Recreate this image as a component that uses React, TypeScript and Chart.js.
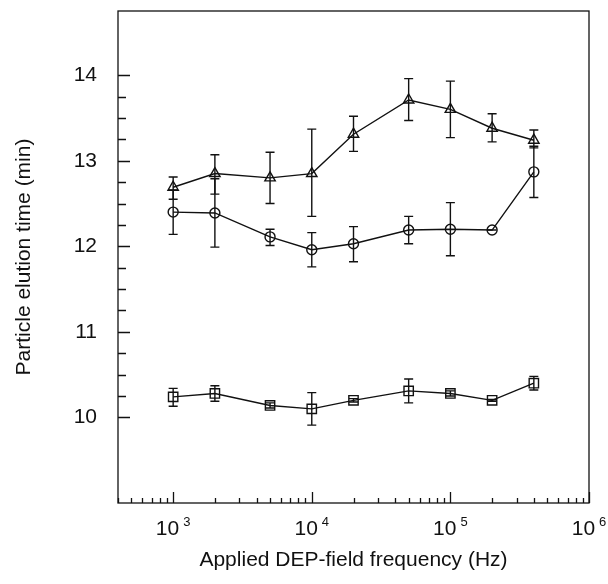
import React, { useEffect, useRef } from "react";
import { Chart, registerables } from "chart.js";

Chart.register(...registerables);

// ---- Data ----
const frequencies = [1000, 2000, 5000, 10000, 20000, 50000, 100000, 200000, 400000];

const triangleValues = [12.69, 12.85, 12.8, 12.85, 13.31, 13.71, 13.6, 13.38, 13.24];
const triangleHigh = [12.81, 13.07, 13.1, 13.37, 13.52, 13.96, 13.93, 13.55, 13.36];
const triangleLow = [12.55, 12.61, 12.5, 12.35, 13.11, 13.47, 13.27, 13.22, 13.15];

const circleValues = [12.4, 12.39, 12.11, 11.96, 12.03, 12.19, 12.2, 12.19, 12.87];
const circleHigh = [12.66, 12.79, 12.2, 12.16, 12.23, 12.35, 12.51, 12.19, 13.17];
const circleLow = [12.14, 11.99, 12.01, 11.76, 11.82, 12.03, 11.89, 12.19, 12.57];

const squareValues = [10.24, 10.28, 10.14, 10.1, 10.2, 10.31, 10.28, 10.2, 10.4];
const squareHigh = [10.34, 10.37, 10.17, 10.29, 10.22, 10.45, 10.31, 10.21, 10.48];
const squareLow = [10.13, 10.19, 10.11, 9.91, 10.18, 10.17, 10.25, 10.19, 10.32];

const yTickLabels = [10, 11, 12, 13, 14];
const yMinorStep = 0.25;
const xMajorTicks = [1000, 10000, 100000, 1000000];
const xTickExponents = ["3", "4", "5", "6"];

const xTitle = "Applied DEP-field frequency (Hz)";
const yTitle = "Particle elution time (min)";

const FONT = "'Liberation Sans', Arial, Helvetica, sans-serif";
const INK = "#111";

const errorSets = [
  { low: squareLow, high: squareHigh },
  { low: circleLow, high: circleHigh },
  { low: triangleLow, high: triangleHigh },
];

const customPlugin = {
  id: "customDecor",
  beforeDatasetsDraw(chart: any) {
    const ctx = chart.ctx;
    const xs = chart.scales.x;
    const ys = chart.scales.y;
    ctx.save();
    ctx.strokeStyle = INK;
    ctx.lineWidth = 1.4;
    errorSets.forEach((set) => {
      frequencies.forEach((f, i) => {
        const px = xs.getPixelForValue(f);
        const yh = ys.getPixelForValue(set.high[i]);
        const yl = ys.getPixelForValue(set.low[i]);
        ctx.beginPath();
        ctx.moveTo(px, yh);
        ctx.lineTo(px, yl);
        ctx.moveTo(px - 4.5, yh);
        ctx.lineTo(px + 4.5, yh);
        ctx.moveTo(px - 4.5, yl);
        ctx.lineTo(px + 4.5, yl);
        ctx.stroke();
      });
    });
    ctx.restore();
  },
  afterDraw(chart: any) {
    const ctx = chart.ctx;
    const { left, right, top, bottom } = chart.chartArea;
    const xs = chart.scales.x;
    const ys = chart.scales.y;
    ctx.save();
    ctx.strokeStyle = INK;
    ctx.lineWidth = 1.3;
    ctx.strokeRect(left, top, right - left, bottom - top);

    // y ticks (inward)
    ctx.beginPath();
    const yStart = yTickLabels[0];
    const yEnd = yTickLabels[yTickLabels.length - 1];
    for (let v = yStart; v <= yEnd + 1e-9; v += yMinorStep) {
      const py = Math.round(ys.getPixelForValue(v)) + 0.5;
      const isMajor = Math.abs(v - Math.round(v)) < 1e-9;
      ctx.moveTo(left, py);
      ctx.lineTo(left + (isMajor ? 12 : 8), py);
    }
    // x ticks (inward)
    for (let d = 0; d < xMajorTicks.length; d++) {
      const base = xMajorTicks[d] / 10;
      for (let m = 1; m <= 9; m++) {
        const v = base * m;
        if (v < xs.min || v > xs.max) continue;
        const px = Math.round(xs.getPixelForValue(v)) + 0.5;
        ctx.moveTo(px, bottom);
        ctx.lineTo(px, bottom - (m === 1 ? 11 : 5));
      }
    }
    const lastPx = Math.round(xs.getPixelForValue(xMajorTicks[xMajorTicks.length - 1])) + 0.5;
    ctx.moveTo(lastPx, bottom);
    ctx.lineTo(lastPx, bottom - 11);
    ctx.stroke();

    // x tick labels with superscript
    ctx.fillStyle = INK;
    ctx.textBaseline = "alphabetic";
    ctx.textAlign = "left";
    xMajorTicks.forEach((v, i) => {
      const px = xs.getPixelForValue(v);
      ctx.font = `21px ${FONT}`;
      const w1 = ctx.measureText("10").width;
      ctx.font = `13px ${FONT}`;
      const w2 = ctx.measureText(xTickExponents[i]).width;
      const gap = 4;
      const start = px - (w1 + gap + w2) / 2;
      ctx.font = `21px ${FONT}`;
      ctx.fillText("10", start, 535);
      ctx.font = `13px ${FONT}`;
      ctx.fillText(xTickExponents[i], start + w1 + gap, 526);
    });
    ctx.restore();
  },
};

export default function App() {
  const canvasRef = useRef<HTMLCanvasElement | null>(null);

  useEffect(() => {
    document.body.style.margin = "0";
    const canvas = canvasRef.current;
    if (!canvas) return;
    const mk = (label: string, data: number[], style: string, radius: number) => ({
      label,
      data: frequencies.map((f, i) => ({ x: f, y: data[i] })),
      borderColor: INK,
      borderWidth: 1.4,
      pointStyle: style,
      pointRadius: radius,
      pointBorderWidth: 1.4,
      pointBackgroundColor: "rgba(0,0,0,0)",
      pointBorderColor: INK,
      backgroundColor: "rgba(0,0,0,0)",
      tension: 0,
      fill: false,
    });
    const chart = new Chart(canvas, {
      type: "line",
      data: {
        datasets: [
          mk("square", squareValues, "rect", 6.6),
          mk("circle", circleValues, "circle", 5),
          mk("triangle", triangleValues, "triangle", 6),
        ],
      },
      options: {
        animation: false,
        responsive: true,
        maintainAspectRatio: false,
        layout: { padding: { top: 11, right: 19, left: 0, bottom: 0 } },
        plugins: { legend: { display: false }, tooltip: { enabled: false } },
        scales: {
          x: {
            type: "logarithmic",
            min: 400,
            max: 1000000,
            grid: { display: false, drawTicks: false },
            border: { display: false },
            ticks: { display: false },
            afterFit: (scale: any) => {
              scale.height = 81;
              scale.paddingLeft = 0;
              scale.paddingRight = 0;
            },
            title: {
              display: true,
              text: xTitle,
              color: INK,
              font: { family: FONT, size: 21 },
              padding: { top: 0, bottom: 11 },
            },
          },
          y: {
            type: "linear",
            min: 9,
            max: 14.75,
            grid: { display: false, drawTicks: false },
            border: { display: false },
            afterBuildTicks: (scale: any) => {
              scale.ticks = yTickLabels.map((v) => ({ value: v }));
            },
            afterFit: (scale: any) => {
              scale.width = 118;
              scale.paddingTop = 0;
              scale.paddingBottom = 0;
            },
            ticks: {
              color: INK,
              padding: 21,
              font: { family: FONT, size: 21 },
              callback: (v: any) => String(v),
            },
            title: {
              display: true,
              text: yTitle,
              color: INK,
              font: { family: FONT, size: 21 },
              padding: { top: 12, bottom: 0 },
            },
          },
        },
      },
      plugins: [customPlugin],
    });
    return () => chart.destroy();
  }, []);

  return (
    <div style={{ position: "relative", width: 608, height: 584 }}>
      <canvas ref={canvasRef} />
    </div>
  );
}
